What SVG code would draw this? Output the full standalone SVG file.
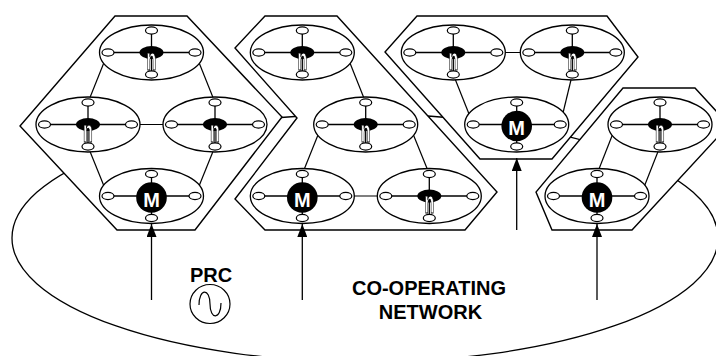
<svg xmlns="http://www.w3.org/2000/svg" xmlns:xlink="http://www.w3.org/1999/xlink" width="716" height="356" viewBox="0 0 716 356">
  <style>
    .net { fill: none; stroke: #000; stroke-width: 1.3; }
    .hex { fill: #fff; stroke: #000; stroke-width: 1.4; stroke-linejoin: miter; }
    .big { fill: #fff; stroke: #000; stroke-width: 1.3; }
    .port { fill: #fff; stroke: #000; stroke-width: 1.2; }
    .spoke { stroke: #000; stroke-width: 1.3; }
    .link { stroke: #000; stroke-width: 1.2; fill: none; }
    .feed { stroke: #000; stroke-width: 1.3; fill: none; marker-end: url(#head); }
    .core { fill: #000; }
    .glyph-n { font-family: "Liberation Sans", Arial, sans-serif; font-weight: bold; font-size: 32px; fill: #fff; stroke: #000; stroke-width: 1; text-anchor: middle; }
    .glyph-m { font-family: "Liberation Sans", Arial, sans-serif; font-weight: bold; font-size: 20px; fill: #fff; text-anchor: middle; }
    .label { font-family: "Liberation Sans", Arial, sans-serif; font-weight: bold; font-size: 20px; fill: #000; text-anchor: middle; }
  </style>
  <defs>
    <marker id="head" markerUnits="userSpaceOnUse" markerWidth="14" markerHeight="10" refX="13" refY="5" orient="auto">
      <path d="M0,0 L13,5 L0,10 Z" fill="#000"/>
    </marker>
    <!-- plain pass-through filter: renders the narrow glyph in its own layer -->
    <filter id="flat" x="-50%" y="-50%" width="200%" height="200%">
      <feOffset dx="0" dy="0"/>
    </filter>
    <!-- station with four ports and an "n" core -->
    <g id="unit-n">
      <ellipse class="big" cx="0" cy="0" rx="52" ry="27.5"/>
      <line class="spoke" x1="-43.5" y1="0" x2="43.5" y2="0"/>
      <line class="spoke" x1="0" y1="-22" x2="0" y2="22"/>
      <ellipse class="core" cx="0" cy="0" rx="12" ry="6.5"/>
      <g filter="url(#flat)">
        <text class="glyph-n" transform="translate(0,17) scale(0.5,1)" x="0" y="0">n</text>
      </g>
      <ellipse class="port" cx="0" cy="-22" rx="6" ry="3.6"/>
      <ellipse class="port" cx="-43.5" cy="0" rx="6" ry="3.6"/>
      <ellipse class="port" cx="43.5" cy="0" rx="6" ry="3.6"/>
      <ellipse class="port" cx="0" cy="22" rx="6" ry="3.6"/>
    </g>
    <!-- master station with an "M" core -->
    <g id="unit-m">
      <ellipse class="big" cx="0" cy="0" rx="52" ry="27.5"/>
      <line class="spoke" x1="-43.5" y1="0" x2="43.5" y2="0"/>
      <line class="spoke" x1="0" y1="-22" x2="0" y2="22"/>
      <circle class="core" cx="0" cy="1.5" r="15.3"/>
      <text class="glyph-m" x="0" y="10.6">M</text>
      <ellipse class="port" cx="0" cy="-22" rx="6" ry="3.6"/>
      <ellipse class="port" cx="-43.5" cy="0" rx="6" ry="3.6"/>
      <ellipse class="port" cx="43.5" cy="0" rx="6" ry="3.6"/>
      <ellipse class="port" cx="0" cy="22" rx="6" ry="3.6"/>
    </g>
  </defs>

  <!-- co-operating network boundary -->
  <ellipse id="network" class="net" cx="365" cy="238" rx="353" ry="124"/>

  <!-- cluster outlines -->
  <g id="clusters">
    <polygon id="cluster-1" class="hex" points="115,16 187,16 282,117 195,230 117,230 20,126"/>
    <polygon id="cluster-2" class="hex" points="265,16 337,16 497,192 465,230 265,230 235,199 297,118 235,48"/>
    <polygon id="cluster-3" class="hex" points="417,16 607,16 638,57 552,159 480,159 385,52"/>
    <polygon id="cluster-4" class="hex" points="623,88 695,88 729,125 632,230 552,230 536,192"/>
  </g>

  <!-- links between ports, and feeds into the masters -->
  <g id="connectors">
    <line class="link" x1="108" y1="52.5" x2="88" y2="102.5"/>
    <line class="link" x1="195" y1="52.5" x2="215" y2="102.5"/>
    <line class="link" x1="131.5" y1="124.5" x2="171.5" y2="124.5"/>
    <line class="link" x1="88" y1="146.5" x2="108" y2="196"/>
    <line class="link" x1="215" y1="146.5" x2="195" y2="196"/>

    <line class="link" x1="345.8" y1="52.5" x2="365.7" y2="102.5"/>
    <line class="link" x1="322.2" y1="124.5" x2="302.3" y2="174"/>
    <line class="link" x1="409.2" y1="124.5" x2="429.3" y2="174"/>
    <line class="link" x1="345.8" y1="196" x2="385.8" y2="196"/>

    <line class="link" x1="496.8" y1="52.5" x2="528.8" y2="52.5"/>
    <line class="link" x1="453.3" y1="74.5" x2="473.2" y2="124.5"/>
    <line class="link" x1="572.3" y1="74.5" x2="560.2" y2="124.5"/>

    <line class="link" x1="616.5" y1="124.5" x2="597" y2="174"/>
    <line class="link" x1="660" y1="146.5" x2="640.5" y2="196"/>

    <line class="feed" x1="151.5" y1="300" x2="151.5" y2="224"/>
    <line class="feed" x1="302.3" y1="300" x2="302.3" y2="224"/>
    <line class="feed" x1="516.7" y1="230" x2="516.7" y2="158"/>
    <line class="feed" x1="597" y1="300" x2="597" y2="224"/>
  </g>

  <!-- stations -->
  <g id="c1-top"><use xlink:href="#unit-n" transform="translate(151.5,52.5)"/></g>
  <g id="c1-left"><use xlink:href="#unit-n" transform="translate(88,124.5)"/></g>
  <g id="c1-right"><use xlink:href="#unit-n" transform="translate(215,124.5)"/></g>
  <g id="c1-master"><use xlink:href="#unit-m" transform="translate(151.5,196)"/></g>

  <g id="c2-top"><use xlink:href="#unit-n" transform="translate(302.3,52.5)"/></g>
  <g id="c2-mid"><use xlink:href="#unit-n" transform="translate(365.7,124.5)"/></g>
  <g id="c2-master"><use xlink:href="#unit-m" transform="translate(302.3,196)"/></g>
  <g id="c2-right"><use xlink:href="#unit-n" transform="translate(429.3,196)"/></g>

  <g id="c3-left"><use xlink:href="#unit-n" transform="translate(453.3,52.5)"/></g>
  <g id="c3-right"><use xlink:href="#unit-n" transform="translate(572.3,52.5)"/></g>
  <g id="c3-master"><use xlink:href="#unit-m" transform="translate(516.7,124.5)"/></g>

  <g id="c4-top"><use xlink:href="#unit-n" transform="translate(660,124.5)"/></g>
  <g id="c4-master"><use xlink:href="#unit-m" transform="translate(597,196)"/></g>

  <!-- reference clock -->
  <g id="prc">
    <text class="label" x="211" y="281.5">PRC</text>
    <ellipse cx="210" cy="304" rx="20" ry="19.5" fill="none" stroke="#000" stroke-width="1.2"/>
    <path d="M199,305 C199,288 210,288 210,304 C210,320 221,320 221,303" fill="none" stroke="#000" stroke-width="1.2"/>
  </g>

  <g id="network-label">
    <text class="label" x="429" y="295">CO-OPERATING</text>
    <text class="label" x="430.5" y="319">NETWORK</text>
  </g>
</svg>
